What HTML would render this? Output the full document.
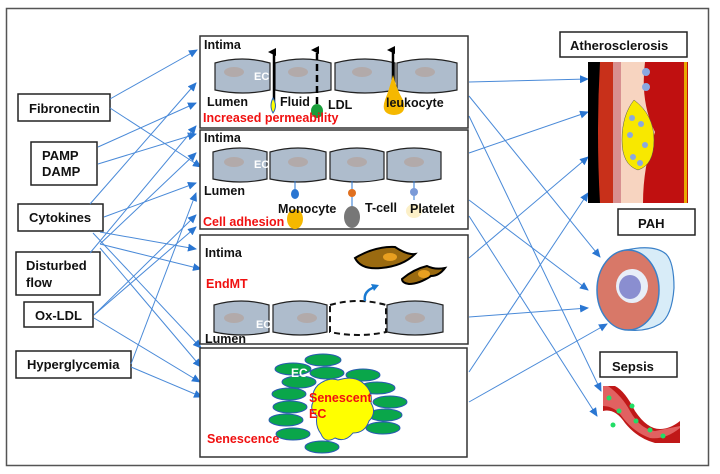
<!DOCTYPE html><html><head><meta charset="utf-8"><style>
body{margin:0;background:#fff}
svg{display:block;font-family:"Liberation Sans",sans-serif}
.b{font-weight:bold}
</style></head><body>
<svg width="720" height="474" viewBox="0 0 720 474">
<defs>
<marker id="a" markerWidth="9" markerHeight="8" refX="8" refY="4" orient="auto" markerUnits="userSpaceOnUse"><path d="M0,0L9,4L0,8z" fill="#2a76d2"/></marker>
<marker id="k" markerWidth="8" markerHeight="8" refX="4" refY="6" orient="auto" markerUnits="userSpaceOnUse"><path d="M0,8L4,0L8,8z" fill="#000"/></marker>
</defs>
<rect x="6.5" y="8.5" width="702" height="457" fill="#fff" stroke="#555" stroke-width="1.5"/>
<g fill="#fff" stroke="#222" stroke-width="1.5">
<rect x="18" y="94" width="92" height="27"/><rect x="31" y="142" width="66" height="43"/>
<rect x="18" y="204" width="85" height="27"/><rect x="16" y="252" width="84" height="43"/>
<rect x="24" y="302" width="69" height="25"/><rect x="16" y="351" width="115" height="27"/>
<rect x="560" y="32" width="127" height="25"/><rect x="618" y="209" width="77" height="26"/><rect x="600" y="352" width="77" height="25"/>
</g>
<g class="b" font-size="13" fill="#111">
<text x="29" y="113">Fibronectin</text><text x="42" y="160">PAMP</text><text x="42" y="176">DAMP</text>
<text x="29" y="222">Cytokines</text><text x="26" y="270">Disturbed</text><text x="26" y="287">flow</text>
<text x="35" y="320">Ox-LDL</text><text x="27" y="369">Hyperglycemia</text>
<text x="570" y="50">Atherosclerosis</text><text x="638" y="228">PAH</text><text x="612" y="371">Sepsis</text>
</g>
<g stroke="#4a8ad8" stroke-width="1" fill="none" marker-end="url(#a)">
<path d="M110,99L197,50"/><path d="M110,108L201,167"/>
<path d="M98,147L196,103"/><path d="M98,164L196,134"/>
<path d="M90,204L196,83"/><path d="M104,217L196,183"/><path d="M100,232L196,249"/>
<path d="M93,233L201,348"/>
<path d="M90,253L196,126"/><path d="M100,244L196,153"/><path d="M100,244L201,269"/><path d="M100,248L201,367"/>
<path d="M94,315L196,215"/><path d="M94,315L196,227"/><path d="M94,318L200,382"/>
<path d="M131,364L196,193"/><path d="M131,367L202,397"/>
<path d="M469,82L588,79"/><path d="M469,96L600,257"/><path d="M469,116L601,391"/>
<path d="M469,153L588,112"/><path d="M469,200L588,290"/><path d="M469,216L597,416"/>
<path d="M469,258L588,157"/><path d="M469,317L588,308"/><path d="M469,372L588,193"/><path d="M469,402L607,324"/>
</g>
<g fill="#fff" stroke="#333" stroke-width="1.5">
<rect x="200" y="36" width="268" height="92"/><rect x="200" y="130" width="268" height="99"/>
<rect x="200" y="235" width="268" height="109"/><rect x="200" y="348" width="267" height="109"/>
</g>
<g fill="#aebccc" stroke="#222" stroke-width="1.2">
<path d="M215,63q27,-8 55,0v27q-27,6 -55,0z"/><path d="M275,63q28,-8 56,0v27q-28,6 -56,0z"/>
<path d="M335,63q30,-8 60,0v27q-30,6 -60,0z"/><path d="M397,63q30,-8 60,0v27q-30,6 -60,0z"/>
<path d="M213,152q27,-8 54,0v27q-27,6 -54,0z"/><path d="M270,152q28,-8 56,0v27q-28,6 -56,0z"/>
<path d="M330,152q27,-8 54,0v27q-27,6 -54,0z"/><path d="M387,152q27,-8 54,0v27q-27,6 -54,0z"/>
<path d="M214,305q27,-8 55,0v27q-27,6 -55,0z"/><path d="M273,305q27,-8 54,0v27q-27,6 -54,0z"/>
<path d="M387,305q28,-8 56,0v27q-28,6 -56,0z"/>
</g>
<path d="M330,305q28,-8 56,0v27q-28,6 -56,0z" fill="#fff" stroke="#111" stroke-width="2" stroke-dasharray="6,4"/>
<g fill="#b2aaaa"><ellipse cx="234" cy="72" rx="10" ry="5"/><ellipse cx="298" cy="72" rx="10" ry="5"/><ellipse cx="362" cy="72" rx="10" ry="5"/><ellipse cx="425" cy="72" rx="10" ry="5"/>
<ellipse cx="234" cy="162" rx="10" ry="5"/><ellipse cx="298" cy="162" rx="10" ry="5"/><ellipse cx="357" cy="162" rx="10" ry="5"/><ellipse cx="414" cy="162" rx="10" ry="5"/>
<ellipse cx="234" cy="318" rx="10" ry="5"/><ellipse cx="307" cy="318" rx="10" ry="5"/><ellipse cx="415" cy="318" rx="10" ry="5"/></g>
<g fill="#fff" class="b" font-size="11"><text x="254" y="80">EC</text><text x="254" y="168">EC</text><text x="256" y="328">EC</text></g>
<path d="M274,108L274,52" stroke="#000" stroke-width="2.5" marker-end="url(#k)"/>
<path d="M317,104L317,50" stroke="#000" stroke-width="2.5" stroke-dasharray="7,4" marker-end="url(#k)"/>
<path d="M393,80L393,50" stroke="#000" stroke-width="2.5" marker-end="url(#k)"/>
<path d="M273,98q-4,8 0,15q5,-7 0,-15z" fill="#ff0" stroke="#2a62b2"/>
<ellipse cx="317" cy="111" rx="6" ry="7" fill="#1a9e3a"/>
<path d="M393,75q-4,15 -8,25q-5,14 9,15q14,-1 9,-15q-6,-10 -10,-25z" fill="#f5b800"/>
<g stroke="#2a76d2" stroke-width="1"><path d="M295,181V196"/><path d="M352,181V212"/><path d="M414,181V200"/></g>
<ellipse cx="295" cy="219" rx="8" ry="10" fill="#f5b800"/><ellipse cx="295" cy="194" rx="4" ry="5" fill="#2a76d2"/>
<ellipse cx="352" cy="217" rx="8" ry="11" fill="#777"/><ellipse cx="352" cy="193" rx="4" ry="4" fill="#e07020"/>
<ellipse cx="414" cy="211" rx="8" ry="7" fill="#fcf0c8"/><ellipse cx="414" cy="192" rx="4" ry="4" fill="#7a9ad8"/>
<g class="b" font-size="12.5" fill="#111">
<text x="204" y="49">Intima</text><text x="207" y="106">Lumen</text><text x="280" y="106">Fluid</text><text x="328" y="109">LDL</text><text x="386" y="107">leukocyte</text>
<text x="204" y="142">Intima</text><text x="204" y="195">Lumen</text><text x="278" y="213">Monocyte</text><text x="365" y="212">T-cell</text><text x="410" y="213">Platelet</text>
<text x="205" y="257">Intima</text><text x="205" y="343">Lumen</text>
</g>
<g class="b" font-size="12.5" fill="#f01010"><text x="203" y="122">Increased permeability</text><text x="203" y="226">Cell adhesion</text><text x="206" y="288">EndMT</text><text x="207" y="443">Senescence</text></g>
<path d="M355,258q20,-12 40,-11q12,8 20,7q-12,12 -34,14q-20,2 -26,-10z" fill="#9a6a10" stroke="#000" stroke-width="2"/>
<ellipse cx="390" cy="257" rx="7" ry="4" fill="#e8a020"/>
<path d="M402,279q12,-10 25,-13q8,4 18,2q-6,8 -14,8q-12,8 -22,8q-7,-1 -7,-5z" fill="#9a6a10" stroke="#000" stroke-width="2"/>
<ellipse cx="424" cy="274" rx="6" ry="4" fill="#e8a020"/>
<path d="M365,301q-2,-10 10,-14" stroke="#1a7ad2" stroke-width="2.5" fill="none"/><path d="M371,284l8,1l-5,6z" fill="#1a7ad2"/>
<g fill="#0aa64a" stroke="#2a5ab2" stroke-width="1">
<ellipse cx="323" cy="360" rx="18" ry="6"/><ellipse cx="293" cy="369" rx="18" ry="6"/><ellipse cx="327" cy="373" rx="17" ry="6"/><ellipse cx="363" cy="375" rx="17" ry="6"/>
<ellipse cx="299" cy="382" rx="17" ry="6"/><ellipse cx="377" cy="388" rx="18" ry="6"/><ellipse cx="289" cy="394" rx="17" ry="6"/><ellipse cx="390" cy="402" rx="17" ry="6"/>
<ellipse cx="290" cy="407" rx="17" ry="6"/><ellipse cx="385" cy="415" rx="17" ry="6"/><ellipse cx="286" cy="420" rx="17" ry="6"/><ellipse cx="383" cy="428" rx="17" ry="6"/>
<ellipse cx="293" cy="434" rx="17" ry="6"/><ellipse cx="322" cy="447" rx="17" ry="6"/>
</g>
<path d="M318,385q10,-8 20,-5q16,-5 25,3q10,8 8,20q6,10 -2,18q-4,12 -16,12q-8,10 -18,5q-10,6 -14,-4q-6,-8 -4,-18q-8,-6 -4,-14q-2,-10 5,-17z" fill="#ffff00" stroke="#2a5ab2" stroke-width="1"/>
<text x="291" y="377" fill="#fff" class="b" font-size="12">EC</text>
<g class="b" font-size="12.5" fill="#f01010"><text x="309" y="402">Senescent</text><text x="309" y="418">EC</text></g>
<rect x="588" y="62" width="100" height="141" fill="#c01010"/>
<rect x="588" y="62" width="12" height="141" fill="#000"/>
<path d="M600,62h14v141h-14q-4,-70 0,-141z" fill="#c8301a"/>
<rect x="613" y="62" width="8" height="141" fill="#d89090"/>
<path d="M621,62h24q-5,40 10,70q-12,35 -12,71h-22z" fill="#f7d4c0"/>
<path d="M634,100q20,15 20,40q0,25 -16,30q-16,-5 -16,-30q0,-25 12,-40z" fill="#f8e800" stroke="#555" stroke-width=".5"/>
<g fill="#8aa8e0"><circle cx="632" cy="118" r="3"/><circle cx="641" cy="124" r="3"/><circle cx="630" cy="135" r="3"/><circle cx="645" cy="145" r="3"/><circle cx="633" cy="157" r="3"/><circle cx="640" cy="163" r="3"/><circle cx="646" cy="72" r="4"/><circle cx="646" cy="87" r="4"/></g>
<rect x="684" y="62" width="3" height="141" fill="#e8a800"/>
<path d="M626,250q28,-6 40,4q8,8 8,34q-2,28 -14,36q-14,8 -32,6z" fill="#d8ecf8" stroke="#3a80c8" stroke-width="1.2"/>
<ellipse cx="628" cy="290" rx="31" ry="40" fill="#d87868" stroke="#3a80c8" stroke-width="1.5"/>
<ellipse cx="632" cy="286" rx="16" ry="17" fill="#e8eef8"/>
<ellipse cx="630" cy="287" rx="11" ry="12" fill="#8a8ed0"/>
<path d="M603,386h12q10,5 20,25q12,18 25,18q10,0 20,-8v22h-25q-18,-5 -30,-20q-10,-15 -22,-12z" fill="#c01818"/>
<path d="M603,386h5q14,10 22,25q10,18 25,20l25,-5v2q-15,12 -30,10q-15,-5 -27,-20q-8,-12 -20,-12z" fill="#f08080" opacity=".7"/>
<g fill="#22dd66"><circle cx="609" cy="398" r="2.5"/><circle cx="619" cy="411" r="2.5"/><circle cx="632" cy="406" r="2.5"/><circle cx="636" cy="421" r="2.5"/><circle cx="650" cy="430" r="2.5"/><circle cx="663" cy="436" r="2.5"/><circle cx="613" cy="425" r="2.5"/></g>
</svg>
</body></html>
